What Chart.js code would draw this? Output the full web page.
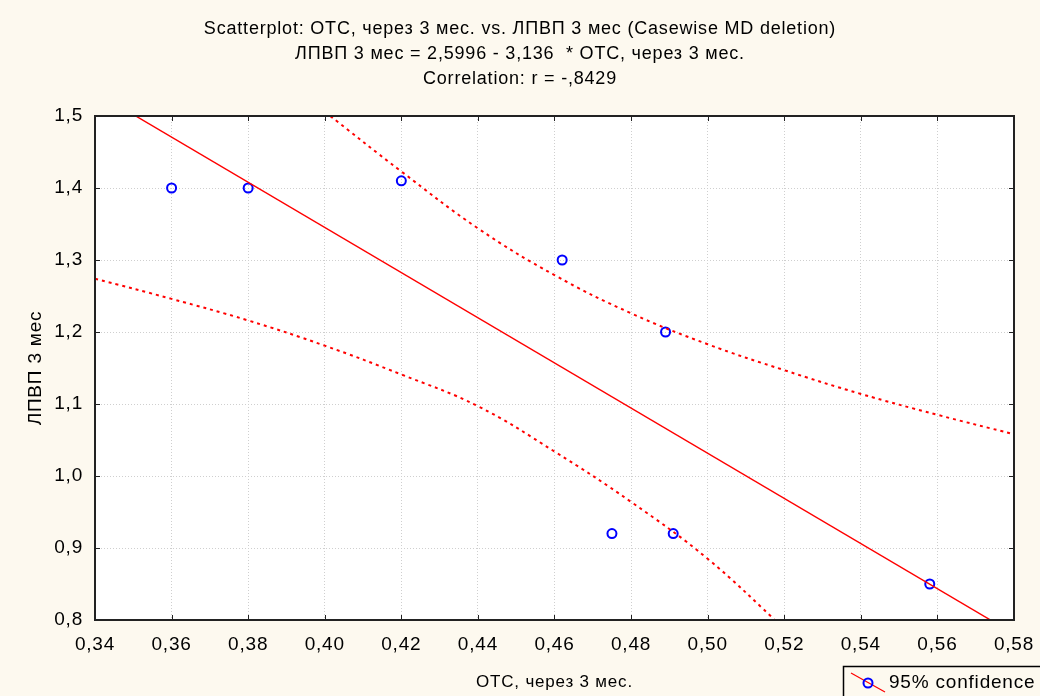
<!DOCTYPE html>
<html>
<head>
<meta charset="utf-8">
<title>ОТС vs ЛПВП</title>
<script src="https://cdn.jsdelivr.net/npm/chart.js@4/dist/chart.umd.min.js"></script>
<style>
  html, body { margin: 0; padding: 0; background: #fdf9ef; }
  canvas { display: block; }
</style>
</head>
<body>
<canvas id="scatterChart" width="1040" height="696"></canvas>
<script>
// ===== Данные =====
const otcX  = [0.36, 0.38, 0.42, 0.462, 0.489, 0.475, 0.491, 0.558];
const lpvpY = [1.40, 1.40, 1.41, 1.30, 1.20, 0.92, 0.92, 0.85];

// линия регрессии: ЛПВП = 2,5996 - 3,136 * ОТС
const fitX = [0.34, 0.58];
const fitY = [1.5334, 0.7807];

// 95% доверительный интервал
const upperX = [0.40, 0.42, 0.44, 0.46, 0.48, 0.50, 0.52, 0.54, 0.56, 0.58];
const upperY = [1.506, 1.423, 1.344, 1.279, 1.226, 1.183, 1.147, 1.114, 1.085, 1.058];
const lowerX = [0.34, 0.36, 0.38, 0.40, 0.42, 0.44, 0.46, 0.48, 0.50, 0.52];
const lowerY = [1.274, 1.246, 1.216, 1.181, 1.141, 1.097, 1.034, 0.964, 0.885, 0.788];

const titleLines = [
  'Scatterplot: ОТС, через 3 мес. vs. ЛПВП 3 мес (Casewise MD deletion)',
  'ЛПВП 3 мес = 2,5996 - 3,136  * ОТС, через 3 мес.',
  'Correlation: r = -,8429'
];
const xTitle = 'ОТС, через 3 мес.';
const yTitle = 'ЛПВП 3 мес';
const legendText = '95% confidence';

const FONT = "'Liberation Sans', Arial, sans-serif";
const SPACING = '0.8px';
const toXY = (xs, ys) => xs.map((x, i) => ({ x: x, y: ys[i] }));
const comma = (v, d) => v.toFixed(d).replace('.', ',');

// ===== Фон, межбуквенный интервал =====
const backPlugin = {
  id: 'back',
  beforeLayout(chart) { chart.ctx.letterSpacing = SPACING; },
  beforeDraw(chart) {
    const { ctx, chartArea: a } = chart;
    ctx.letterSpacing = SPACING;
    ctx.save();
    ctx.fillStyle = '#fdf9ef';
    ctx.fillRect(0, 0, chart.width, chart.height);
    ctx.fillStyle = '#ffffff';
    ctx.fillRect(a.left, a.top, a.right - a.left, a.bottom - a.top);
    ctx.restore();
  }
};

// ===== Рамка, внутренние штрихи, легенда =====
const framePlugin = {
  id: 'frame',
  afterDraw(chart) {
    const { ctx, chartArea: a } = chart;
    const xs = chart.scales.x, ys = chart.scales.y;
    ctx.save();
    ctx.strokeStyle = '#222';
    ctx.lineWidth = 1;
    ctx.beginPath();
    xs.ticks.forEach(t => {
      const p = Math.round(xs.getPixelForValue(t.value)) + 0.5;
      ctx.moveTo(p, a.bottom); ctx.lineTo(p, a.bottom - 5);
      ctx.moveTo(p, a.top); ctx.lineTo(p, a.top + 5);
    });
    ys.ticks.forEach(t => {
      const p = Math.round(ys.getPixelForValue(t.value)) + 0.5;
      ctx.moveTo(a.left, p); ctx.lineTo(a.left + 5, p);
      ctx.moveTo(a.right, p); ctx.lineTo(a.right - 5, p);
    });
    ctx.stroke();
    ctx.lineWidth = 2;
    ctx.strokeRect(a.left, a.top, a.right - a.left, a.bottom - a.top);

    // легенда в правом нижнем углу
    const bx = chart.width - 197, by = chart.height - 30;
    ctx.lineWidth = 1.5;
    ctx.strokeStyle = '#000';
    ctx.strokeRect(bx + 0.5, by + 0.5, 200, 40);
    ctx.strokeStyle = '#ff0000';
    ctx.lineWidth = 1.2;
    ctx.beginPath();
    ctx.moveTo(bx + 8, by + 7); ctx.lineTo(bx + 42, by + 26);
    ctx.stroke();
    ctx.strokeStyle = '#0000ff';
    ctx.lineWidth = 2;
    ctx.beginPath();
    ctx.arc(bx + 25, by + 17, 4.5, 0, Math.PI * 2);
    ctx.stroke();
    ctx.fillStyle = '#000';
    ctx.font = '19px ' + FONT;
    ctx.textBaseline = 'middle';
    ctx.fillText(legendText, bx + 46, by + 17);
    ctx.restore();
  }
};

// ===== График =====
const lineBase = { showLine: true, pointRadius: 0, borderColor: '#ff0000', fill: false };

const chart = new Chart(document.getElementById('scatterChart'), {
  type: 'scatter',
  data: {
    datasets: [
      { ...lineBase, data: toXY(fitX, fitY), borderWidth: 1.4 },
      { ...lineBase, data: toXY(upperX, upperY), borderWidth: 2, borderDash: [3, 4], tension: 0.4 },
      { ...lineBase, data: toXY(lowerX, lowerY), borderWidth: 2, borderDash: [3, 4], tension: 0.4 },
      {
        data: toXY(otcX, lpvpY),
        pointStyle: 'circle',
        pointRadius: 4.5,
        pointBorderWidth: 2,
        borderColor: '#0000ff',
        backgroundColor: 'rgba(0,0,0,0)'
      }
    ]
  },
  options: {
    responsive: false,
    animation: false,
    layout: { padding: 0 },
    plugins: {
      legend: { display: false },
      tooltip: { enabled: false },
      title: {
        display: true,
        text: titleLines,
        color: '#000',
        font: { family: FONT, size: 18, lineHeight: '25px', weight: 'normal' },
        padding: { top: 17, bottom: 24 }
      }
    },
    scales: {
      x: {
        type: 'linear',
        min: 0.34, max: 0.58,
        afterFit(s) { s.height = 76; s.paddingLeft = 0; s.paddingRight = 26; },
        grid: { color: '#cfcfcf', drawTicks: false },
        border: { display: false, dash: [1, 2] },
        ticks: {
          stepSize: 0.02, padding: 13, color: '#000',
          font: { family: FONT, size: 19 },
          callback: v => comma(v, 2)
        },
        title: {
          display: true, text: xTitle, color: '#000',
          font: { family: FONT, size: 17 },
          padding: { top: 0, bottom: 3 }
        }
      },
      y: {
        min: 0.8, max: 1.5,
        afterFit(s) { s.width = 95; },
        grid: { color: '#cfcfcf', drawTicks: false },
        border: { display: false, dash: [1, 2] },
        ticks: {
          stepSize: 0.1, padding: 12, color: '#000',
          font: { family: FONT, size: 19 },
          callback: v => comma(v, 1)
        },
        title: {
          display: true, text: yTitle, color: '#000',
          font: { family: FONT, size: 19 },
          padding: { top: 24, bottom: 0 }
        }
      }
    }
  },
  plugins: [backPlugin, framePlugin]
});
</script>
</body>
</html>
